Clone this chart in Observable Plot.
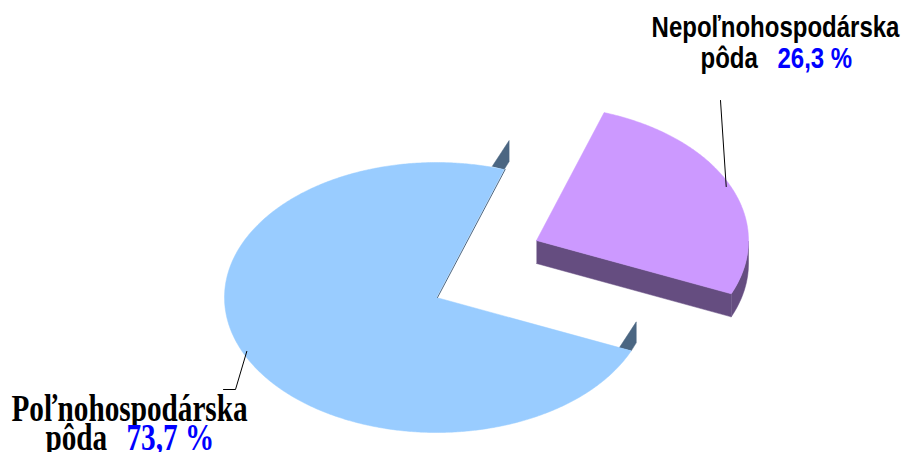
<!DOCTYPE html>
<html><head><meta charset="utf-8">
<script src="https://cdn.jsdelivr.net/npm/d3@7"></script>
<script src="https://cdn.jsdelivr.net/npm/@observablehq/plot@0.6"></script>
<style>html,body{margin:0;padding:0;background:#fff;overflow:hidden}</style>
</head><body><div id="chart"></div>
<script>
// ---- data ----
const categories = ["Poľnohospodárska pôda", "Nepoľnohospodárska pôda"];
const values = [73.7, 26.3];
const nameLine1 = ["Poľnohospodárska", "Nepoľnohospodárska"];
const nameLine2 = ["pôda", "pôda"];
const valueLabels = ["73,7 %", "26,3 %"];
const faceColors = ["#99ccff", "#cc99ff"];
const sideColors = ["#4b6682", "#654d80"];

// ---- layout / style ----
const W = 902, H = 452;
const CENTER = [436, 297], RX = 212, RY = 135;
const START = 71.4;                       // degrees, counter-clockwise
const explode = [[0, 0], [100, -57]];
const sideDepth = [0, 23];                // drawn wall depth under the face
const sliverShape = [[-12, -3], [5, -29], [5, -8], [0, 0]]; // thin wall ends of the big slice
const labelLayout = [
  {font: "Liberation Serif, Times New Roman, serif", size: 37, sx: 0.79, line1: [129, 420], x2a: 45, x2b: 126, y2: 449, leader: [[235, 389], [223, 389]]},
  {font: "Liberation Sans, Arial, sans-serif", size: 30, sx: 0.8, line1: [775, 36], x2a: 700, x2b: 777, y2: 67, leader: [[720, 100]]}
];

const rad = d => d * Math.PI / 180;
const total = d3.sum(values);
let acc = START;
const slices = values.map((v, i) => {
  const a0 = acc, a1 = acc + v / total * 360; acc = a1;
  const c = [CENTER[0] + explode[i][0], CENTER[1] + explode[i][1]];
  return {i, a0, a1, c};
});
const E = (s, t, k = 1) => [s.c[0] + k * RX * Math.cos(rad(t)), s.c[1] - k * RY * Math.sin(rad(t))];
const arc = (s, from, to, step = 0.5) => {
  const pts = [];
  const n = Math.max(2, Math.ceil(Math.abs(to - from) / step));
  for (let j = 0; j <= n; j++) pts.push(E(s, from + (to - from) * j / n));
  return pts;
};

const marks = [];
const poly = (pts, fill) => Plot.line(pts, {x: d => d[0], y: d => d[1], fill, stroke: fill, strokeWidth: 0.5});

// walls of the exploded slice
slices.forEach(s => {
  const d = sideDepth[s.i];
  if (!d) return;
  const vis = [];
  for (let t = s.a0; t <= s.a1; t += 0.5) if (Math.sin(rad(t)) <= 0.001) vis.push(t);
  if (vis.length > 1) {
    const top = arc(s, vis[0], vis[vis.length - 1]);
    const bot = top.slice().reverse().map(p => [p[0], p[1] + d]);
    marks.push(poly(top.concat(bot), sideColors[s.i]));
  }
  if (Math.cos(rad(s.a0)) > 0) {
    const p = E(s, s.a0);
    marks.push(poly([s.c, p, [p[0], p[1] + d], [s.c[0], s.c[1] + d]], sideColors[s.i]));
  }
  if (Math.cos(rad(s.a1)) < 0) {
    const p = E(s, s.a1);
    marks.push(poly([s.c, p, [p[0], p[1] + d], [s.c[0], s.c[1] + d]], sideColors[s.i]));
  }
});

// thin wall ends of the big (non exploded) slice
slices.filter(s => !sideDepth[s.i]).forEach(s => {
  [s.a0, s.a1].forEach(t => {
    const p = E(s, t);
    marks.push(poly(sliverShape.map(o => [p[0] + o[0], p[1] + o[1]]), sideColors[s.i]));
  });
});

// faces
slices.forEach(s => {
  marks.push(poly([s.c].concat(arc(s, s.a0, s.a1), [s.c]), faceColors[s.i]));
});
// dark edge along the upper cut of the big slice
slices.filter(s => !sideDepth[s.i]).forEach(s => {
  marks.push(Plot.line([s.c, E(s, s.a0)], {x: d => d[0], y: d => d[1], stroke: sideColors[s.i], strokeWidth: 1, dx: 1}));
});

// leader lines
slices.forEach(s => {
  const mid = (s.a0 + s.a1) / 2;
  const pts = [E(s, mid, 0.98)].concat(labelLayout[s.i].leader);
  marks.push(Plot.line(pts, {x: d => d[0], y: d => d[1], stroke: "#000", strokeWidth: 1}));
});

// labels
slices.forEach(s => {
  const L = labelLayout[s.i];
  const common = {fontFamily: L.font, fontSize: L.size, fontWeight: "bold", lineAnchor: "bottom"};
  marks.push(Plot.text([nameLine1[s.i]], {...common, x: L.line1[0], y: L.line1[1], text: d => d, fill: "#000", textAnchor: "middle"}));
  marks.push(Plot.text([nameLine2[s.i]], {...common, x: L.x2a, y: L.y2, text: d => d, fill: "#000", textAnchor: "start"}));
  marks.push(Plot.text([valueLabels[s.i]], {...common, x: L.x2b, y: L.y2, text: d => d, fill: "#0000ff", textAnchor: "start"}));
});

const svg = Plot.plot({
  width: W, height: H, margin: 0,
  x: {domain: [0, W], range: [0, W], axis: null},
  y: {domain: [0, H], range: [0, H], axis: null},
  style: {background: "#fff", overflow: "visible"},
  marks
});

// horizontal condensing of the label glyphs (per font)
d3.select(svg).selectAll("text").each(function () {
  const fam = this.getAttribute("font-family") || (this.parentNode && this.parentNode.getAttribute("font-family")) || "";
  const sx = fam.includes("Serif") ? labelLayout[0].sx : labelLayout[1].sx;
  const t = this.getAttribute("transform") || "";
  const x = +this.getAttribute("x") || 0, y = +this.getAttribute("y") || 0;
  this.removeAttribute("x"); this.removeAttribute("y");
  this.setAttribute("transform", `${t} translate(${x},${y}) scale(${sx},1)`);
});
document.getElementById("chart").appendChild(svg);
</script>
</body></html>
